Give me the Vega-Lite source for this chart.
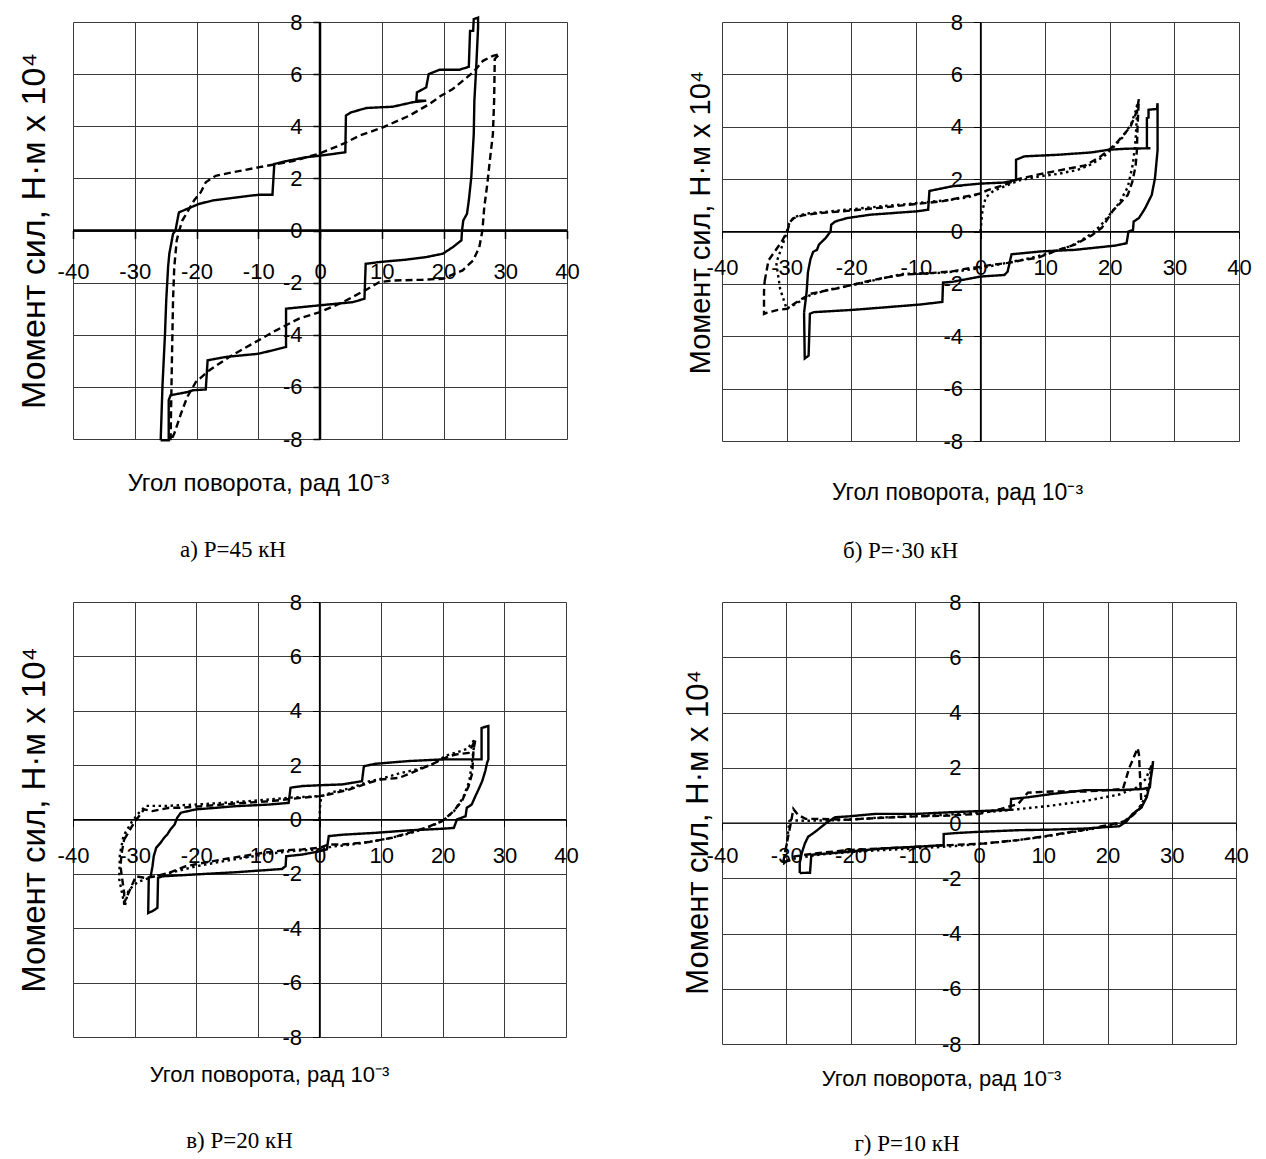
{
"$schema": "https://vega.github.io/schema/vega-lite/v6.json",
"background": "white",
"padding": {"left": 17, "top": 11, "right": 5, "bottom": 5},
"bounds": "flush",
"align": "each",
"columns": 2,
"spacing": {"row": 161, "column": 155},
"config": {
  "view": {"stroke": null},
  "axis": {"labelFont": "Liberation Sans", "titleFont": "Liberation Sans", "labelColor": "black", "titleColor": "black", "tickColor": "black", "domainColor": "black", "gridColor": "#3a3a3a", "gridWidth": 1, "titleFontWeight": "normal", "labelFlush": false, "labelOverlap": false, "labelExpr": "toString(datum.value)"}
},
"datasets": {
  "axes": [{"x1": -40, "x2": 40, "y1": 0, "y2": 0}, {"x1": 0, "x2": 0, "y1": -8, "y2": 8}],
  "a": [
{"s":"solid","x":-25.8,"y":-8.05},{"s":"solid","x":-25.5,"y":-5.9},{"s":"solid","x":-25.1,"y":-3.96},{"s":"solid","x":-24.9,"y":-2.68},{"s":"solid","x":-24.6,"y":-1.4},{"s":"solid","x":-24.4,"y":-0.89},{"s":"solid","x":-23.8,"y":-0.13},{"s":"solid","x":-23.4,"y":0},{"s":"solid","x":-22.9,"y":0.64},{"s":"solid","x":-22.8,"y":0.7},{"s":"solid","x":-20.9,"y":0.89},{"s":"solid","x":-19.6,"y":1.02},{"s":"solid","x":-17.4,"y":1.15},{"s":"solid","x":-14.2,"y":1.25},{"s":"solid","x":-10,"y":1.37},{"s":"solid","x":-7.7,"y":1.37},{"s":"solid","x":-7.4,"y":2.55},{"s":"solid","x":-5.5,"y":2.66},{"s":"solid","x":-2.3,"y":2.81},{"s":"solid","x":0,"y":2.87},{"s":"solid","x":4.1,"y":3.0},{"s":"solid","x":4.2,"y":4.41},{"s":"solid","x":5.0,"y":4.53},{"s":"solid","x":7.5,"y":4.7},{"s":"solid","x":11.8,"y":4.75},{"s":"solid","x":15.0,"y":4.92},{"s":"solid","x":17.2,"y":4.98},{"s":"solid","x":15.6,"y":4.98},{"s":"solid","x":15.7,"y":5.3},{"s":"solid","x":17.2,"y":5.49},{"s":"solid","x":17.6,"y":6.0},{"s":"solid","x":19.4,"y":6.17},{"s":"solid","x":22.6,"y":6.17},{"s":"solid","x":24.1,"y":6.28},{"s":"solid","x":24.3,"y":7.66},{"s":"solid","x":24.8,"y":7.66},{"s":"solid","x":24.9,"y":8.11},{"s":"solid","x":25.6,"y":8.17},{"s":"solid","x":25.6,"y":7.8},{"s":"solid","x":25.3,"y":6.26},{"s":"solid","x":25.0,"y":4.98},{"s":"solid","x":24.9,"y":3.7},{"s":"solid","x":24.5,"y":2.04},{"s":"solid","x":24.1,"y":1.15},{"s":"solid","x":23.8,"y":0.64},{"s":"solid","x":23.2,"y":0.38},{"s":"solid","x":23.0,"y":0},{"s":"solid","x":22.9,"y":-0.38},{"s":"solid","x":21.5,"y":-0.64},{"s":"solid","x":19.9,"y":-0.89},{"s":"solid","x":17.2,"y":-1.02},{"s":"solid","x":13.9,"y":-1.12},{"s":"solid","x":9.6,"y":-1.21},{"s":"solid","x":7.4,"y":-1.28},{"s":"solid","x":7.2,"y":-2.62},{"s":"solid","x":5.3,"y":-2.75},{"s":"solid","x":0,"y":-2.87},{"s":"solid","x":-5.5,"y":-3.0},{"s":"solid","x":-5.5,"y":-4.47},{"s":"solid","x":-7.7,"y":-4.6},{"s":"solid","x":-10,"y":-4.73},{"s":"solid","x":-15.2,"y":-4.85},{"s":"solid","x":-18.2,"y":-4.98},{"s":"solid","x":-18.5,"y":-6.1},{"s":"solid","x":-20.6,"y":-6.13},{"s":"solid","x":-21.5,"y":-6.2},{"s":"solid","x":-24.2,"y":-6.32},{"s":"solid","x":-24.5,"y":-6.51},{"s":"solid","x":-24.5,"y":-8.05},{"s":"solid","x":-25.8,"y":-8.05},
{"s":"dashed","x":-24.2,"y":-8.05},{"s":"dashed","x":-24.0,"y":-5.24},{"s":"dashed","x":-23.8,"y":-2.68},{"s":"dashed","x":-23.6,"y":-1.4},{"s":"dashed","x":-23.2,"y":-0.38},{"s":"dashed","x":-22.8,"y":0},{"s":"dashed","x":-22.3,"y":0.38},{"s":"dashed","x":-21.5,"y":0.7},{"s":"dashed","x":-20.4,"y":1.15},{"s":"dashed","x":-19.3,"y":1.47},{"s":"dashed","x":-18.5,"y":1.85},{"s":"dashed","x":-16.9,"y":2.1},{"s":"dashed","x":-14.2,"y":2.23},{"s":"dashed","x":-9.8,"y":2.43},{"s":"dashed","x":-4.4,"y":2.66},{"s":"dashed","x":0,"y":2.96},{"s":"dashed","x":3.7,"y":3.32},{"s":"dashed","x":6.4,"y":3.64},{"s":"dashed","x":10.2,"y":3.96},{"s":"dashed","x":14.5,"y":4.41},{"s":"dashed","x":17.7,"y":4.85},{"s":"dashed","x":19.6,"y":5.17},{"s":"dashed","x":21.5,"y":5.43},{"s":"dashed","x":24.8,"y":6.07},{"s":"dashed","x":26.4,"y":6.51},{"s":"dashed","x":28.0,"y":6.7},{"s":"dashed","x":29.1,"y":6.77},{"s":"dashed","x":28.3,"y":6.58},{"s":"dashed","x":28.2,"y":4.98},{"s":"dashed","x":28.0,"y":3.7},{"s":"dashed","x":27.5,"y":2.68},{"s":"dashed","x":27.1,"y":1.79},{"s":"dashed","x":26.6,"y":0.89},{"s":"dashed","x":26.3,"y":0},{"s":"dashed","x":25.8,"y":-0.64},{"s":"dashed","x":24.8,"y":-1.15},{"s":"dashed","x":23.1,"y":-1.53},{"s":"dashed","x":19.9,"y":-1.85},{"s":"dashed","x":16.6,"y":-1.89},{"s":"dashed","x":11.8,"y":-1.92},{"s":"dashed","x":9.6,"y":-1.98},{"s":"dashed","x":7.5,"y":-2.27},{"s":"dashed","x":3.7,"y":-2.75},{"s":"dashed","x":0,"y":-3.13},{"s":"dashed","x":-3.4,"y":-3.38},{"s":"dashed","x":-7.1,"y":-3.83},{"s":"dashed","x":-10.9,"y":-4.34},{"s":"dashed","x":-14.7,"y":-4.85},{"s":"dashed","x":-17.9,"y":-5.36},{"s":"dashed","x":-20.1,"y":-5.81},{"s":"dashed","x":-21.5,"y":-6.39},{"s":"dashed","x":-22.5,"y":-7.02},{"s":"dashed","x":-23.6,"y":-7.79},{"s":"dashed","x":-24.2,"y":-8.1}
  ],
  "b": [
{"s":"solid","x":-27.3,"y":-3.1},{"s":"solid","x":-26.9,"y":-2.3},{"s":"solid","x":-26.7,"y":-1.55},{"s":"solid","x":-26.3,"y":-1.05},{"s":"solid","x":-25.9,"y":-0.78},{"s":"solid","x":-25.3,"y":-0.7},{"s":"solid","x":-25.0,"y":-0.5},{"s":"solid","x":-24.5,"y":-0.38},{"s":"solid","x":-24.0,"y":-0.26},{"s":"solid","x":-23.6,"y":-0.13},{"s":"solid","x":-23.2,"y":0},{"s":"solid","x":-23.1,"y":0.26},{"s":"solid","x":-22.5,"y":0.38},{"s":"solid","x":-20.7,"y":0.51},{"s":"solid","x":-17.1,"y":0.64},{"s":"solid","x":-9.9,"y":0.77},{"s":"solid","x":-8.1,"y":0.83},{"s":"solid","x":-7.9,"y":1.55},{"s":"solid","x":-4.3,"y":1.73},{"s":"solid","x":0,"y":1.83},{"s":"solid","x":3.7,"y":1.87},{"s":"solid","x":5.5,"y":1.97},{"s":"solid","x":5.5,"y":2.74},{"s":"solid","x":6.8,"y":2.87},{"s":"solid","x":12.0,"y":2.93},{"s":"solid","x":17.2,"y":3.02},{"s":"solid","x":19.8,"y":3.12},{"s":"solid","x":22.4,"y":3.16},{"s":"solid","x":26.3,"y":3.18},{"s":"solid","x":25.75,"y":3.18},{"s":"solid","x":25.75,"y":4.33},{"s":"solid","x":26.0,"y":4.35},{"s":"solid","x":26.0,"y":4.65},{"s":"solid","x":27.3,"y":4.68},{"s":"solid","x":27.4,"y":4.9},{"s":"solid","x":27.4,"y":3.1},{"s":"solid","x":27.0,"y":2.04},{"s":"solid","x":26.5,"y":1.4},{"s":"solid","x":26.0,"y":1.15},{"s":"solid","x":25.5,"y":0.9},{"s":"solid","x":25.0,"y":0.7},{"s":"solid","x":24.5,"y":0.51},{"s":"solid","x":23.7,"y":0.38},{"s":"solid","x":23.6,"y":0.06},{"s":"solid","x":22.9,"y":0},{"s":"solid","x":22.6,"y":-0.45},{"s":"solid","x":20.8,"y":-0.54},{"s":"solid","x":14.6,"y":-0.7},{"s":"solid","x":9.4,"y":-0.76},{"s":"solid","x":4.8,"y":-0.87},{"s":"solid","x":4.2,"y":-1.53},{"s":"solid","x":3.7,"y":-1.66},{"s":"solid","x":0,"y":-1.72},{"s":"solid","x":-4.3,"y":-1.92},{"s":"solid","x":-5.8,"y":-1.95},{"s":"solid","x":-5.9,"y":-2.69},{"s":"solid","x":-9.4,"y":-2.79},{"s":"solid","x":-15.5,"y":-2.91},{"s":"solid","x":-19.6,"y":-2.99},{"s":"solid","x":-25.8,"y":-3.08},{"s":"solid","x":-26.4,"y":-3.14},{"s":"solid","x":-26.6,"y":-4.74},{"s":"solid","x":-27.2,"y":-4.85},{"s":"solid","x":-27.3,"y":-3.1},
{"s":"dashed","x":-33.4,"y":-1.9},{"s":"dashed","x":-32.8,"y":-1.1},{"s":"dashed","x":-31.8,"y":-0.75},{"s":"dashed","x":-30.8,"y":-0.4},{"s":"dashed","x":-29.9,"y":0},{"s":"dashed","x":-29.5,"y":0.35},{"s":"dashed","x":-29.0,"y":0.5},{"s":"dashed","x":-27.5,"y":0.62},{"s":"dashed","x":-25,"y":0.7},{"s":"dashed","x":-20,"y":0.8},{"s":"dashed","x":-15,"y":0.92},{"s":"dashed","x":-10,"y":1.05},{"s":"dashed","x":-6,"y":1.15},{"s":"dashed","x":-3,"y":1.3},{"s":"dashed","x":0,"y":1.45},{"s":"dashed","x":1.1,"y":1.58},{"s":"dashed","x":3.7,"y":1.78},{"s":"dashed","x":5.8,"y":2.0},{"s":"dashed","x":9.4,"y":2.2},{"s":"dashed","x":13.6,"y":2.4},{"s":"dashed","x":16.2,"y":2.52},{"s":"dashed","x":18.5,"y":2.85},{"s":"dashed","x":19.8,"y":3.1},{"s":"dashed","x":21.3,"y":3.45},{"s":"dashed","x":23.2,"y":4.0},{"s":"dashed","x":24.2,"y":4.6},{"s":"dashed","x":24.5,"y":5.05},{"s":"dashed","x":24.3,"y":4.0},{"s":"dashed","x":24.2,"y":3.1},{"s":"dashed","x":24.0,"y":2.5},{"s":"dashed","x":23.5,"y":1.9},{"s":"dashed","x":22.8,"y":1.4},{"s":"dashed","x":21.5,"y":1.05},{"s":"dashed","x":20.5,"y":0.8},{"s":"dashed","x":19.6,"y":0.45},{"s":"dashed","x":18.8,"y":0.15},{"s":"dashed","x":17.2,"y":-0.15},{"s":"dashed","x":14.6,"y":-0.5},{"s":"dashed","x":11.5,"y":-0.75},{"s":"dashed","x":8.9,"y":-1.0},{"s":"dashed","x":6.8,"y":-1.08},{"s":"dashed","x":4.2,"y":-1.2},{"s":"dashed","x":1.7,"y":-1.27},{"s":"dashed","x":0,"y":-1.35},{"s":"dashed","x":-2.2,"y":-1.42},{"s":"dashed","x":-4.3,"y":-1.52},{"s":"dashed","x":-7.3,"y":-1.58},{"s":"dashed","x":-10,"y":-1.62},{"s":"dashed","x":-12,"y":-1.65},{"s":"dashed","x":-14.5,"y":-1.75},{"s":"dashed","x":-18.1,"y":-1.93},{"s":"dashed","x":-21.7,"y":-2.15},{"s":"dashed","x":-24.8,"y":-2.3},{"s":"dashed","x":-26.3,"y":-2.38},{"s":"dashed","x":-27.3,"y":-2.52},{"s":"dashed","x":-28.6,"y":-2.72},{"s":"dashed","x":-29.9,"y":-2.95},{"s":"dashed","x":-31.5,"y":-3.0},{"s":"dashed","x":-33,"y":-3.1},{"s":"dashed","x":-33.5,"y":-3.15},{"s":"dashed","x":-33.5,"y":-2.3},{"s":"dashed","x":-33.4,"y":-1.9},
{"s":"dotted","x":0,"y":0},{"s":"dotted","x":0.3,"y":0.8},{"s":"dotted","x":0.8,"y":1.3},{"s":"dotted","x":2,"y":1.55},{"s":"dotted","x":4,"y":1.75},{"s":"dotted","x":6,"y":1.95},{"s":"dotted","x":9,"y":2.1},{"s":"dotted","x":12,"y":2.2},{"s":"dotted","x":15,"y":2.35},{"s":"dotted","x":17,"y":2.55},{"s":"dotted","x":19,"y":2.85},{"s":"dotted","x":20.5,"y":3.2},{"s":"dotted","x":22,"y":3.6},{"s":"dotted","x":23.3,"y":4.1},{"s":"dotted","x":24.0,"y":4.6},{"s":"dotted","x":24.3,"y":4.9},{"s":"dotted","x":24.0,"y":3.5},{"s":"dotted","x":23.6,"y":2.6},{"s":"dotted","x":22.8,"y":1.7},{"s":"dotted","x":21.5,"y":1.1},{"s":"dotted","x":20,"y":0.65},{"s":"dotted","x":18.5,"y":0.2},{"s":"dotted","x":16.5,"y":-0.2},{"s":"dotted","x":14,"y":-0.55},{"s":"dotted","x":11,"y":-0.8},{"s":"dotted","x":8,"y":-1.0},{"s":"dotted","x":5,"y":-1.15},{"s":"dotted","x":2,"y":-1.3},{"s":"dotted","x":0,"y":-1.4},{"s":"dotted","x":-3,"y":-1.5},{"s":"dotted","x":-6,"y":-1.58},{"s":"dotted","x":-9,"y":-1.6},{"s":"dotted","x":-12,"y":-1.62},{"s":"dotted","x":-15,"y":-1.78},{"s":"dotted","x":-18,"y":-1.95},{"s":"dotted","x":-21,"y":-2.1},{"s":"dotted","x":-24,"y":-2.25},{"s":"dotted","x":-26.5,"y":-2.45},{"s":"dotted","x":-28.5,"y":-2.75},{"s":"dotted","x":-30,"y":-2.95},{"s":"dotted","x":-31,"y":-2.2},{"s":"dotted","x":-31.6,"y":-1.2},{"s":"dotted","x":-30.9,"y":-0.7},{"s":"dotted","x":-30.2,"y":-0.2},{"s":"dotted","x":-29.6,"y":0.3},{"s":"dotted","x":-28.8,"y":0.55},{"s":"dotted","x":-27,"y":0.68},{"s":"dotted","x":-24,"y":0.75},{"s":"dotted","x":-20,"y":0.85},{"s":"dotted","x":-15,"y":0.97},{"s":"dotted","x":-10,"y":1.08},{"s":"dotted","x":-5,"y":1.2},{"s":"dotted","x":-2,"y":1.3},{"s":"dotted","x":0,"y":1.45}
  ],
  "c": [
{"s":"solid","x":-27.4,"y":-2.09},{"s":"solid","x":-27.1,"y":-1.72},{"s":"solid","x":-26.9,"y":-1.35},{"s":"solid","x":-26.5,"y":-1.04},{"s":"solid","x":-25.8,"y":-0.86},{"s":"solid","x":-25.2,"y":-0.67},{"s":"solid","x":-24.7,"y":-0.55},{"s":"solid","x":-24.2,"y":-0.37},{"s":"solid","x":-23.5,"y":-0.18},{"s":"solid","x":-23.1,"y":0.06},{"s":"solid","x":-22.5,"y":0.25},{"s":"solid","x":-20.1,"y":0.37},{"s":"solid","x":-13.6,"y":0.49},{"s":"solid","x":-8.2,"y":0.55},{"s":"solid","x":-5.0,"y":0.61},{"s":"solid","x":-4.7,"y":1.17},{"s":"solid","x":-2.8,"y":1.23},{"s":"solid","x":0,"y":1.26},{"s":"solid","x":3.7,"y":1.29},{"s":"solid","x":6.9,"y":1.41},{"s":"solid","x":7.2,"y":1.96},{"s":"solid","x":9.1,"y":2.05},{"s":"solid","x":14.5,"y":2.15},{"s":"solid","x":19.9,"y":2.21},{"s":"solid","x":26.3,"y":2.21},{"s":"solid","x":26.3,"y":3.37},{"s":"solid","x":27.4,"y":3.44},{"s":"solid","x":27.4,"y":2.2},{"s":"solid","x":27.2,"y":2.09},{"s":"solid","x":26.9,"y":1.78},{"s":"solid","x":26.4,"y":1.41},{"s":"solid","x":25.8,"y":1.1},{"s":"solid","x":25.3,"y":0.86},{"s":"solid","x":24.7,"y":0.55},{"s":"solid","x":23.9,"y":0.43},{"s":"solid","x":23.7,"y":0.12},{"s":"solid","x":22.3,"y":0},{"s":"solid","x":21.8,"y":-0.31},{"s":"solid","x":19.9,"y":-0.34},{"s":"solid","x":14.5,"y":-0.4},{"s":"solid","x":9.1,"y":-0.49},{"s":"solid","x":3.7,"y":-0.56},{"s":"solid","x":1.5,"y":-0.61},{"s":"solid","x":1.2,"y":-1.1},{"s":"solid","x":0,"y":-1.17},{"s":"solid","x":-2.8,"y":-1.29},{"s":"solid","x":-5.4,"y":-1.35},{"s":"solid","x":-5.5,"y":-1.72},{"s":"solid","x":-6.1,"y":-1.82},{"s":"solid","x":-13.6,"y":-1.94},{"s":"solid","x":-20.1,"y":-2.02},{"s":"solid","x":-25.5,"y":-2.09},{"s":"solid","x":-26.2,"y":-2.15},{"s":"solid","x":-26.3,"y":-3.25},{"s":"solid","x":-27.1,"y":-3.37},{"s":"solid","x":-27.8,"y":-3.44},{"s":"solid","x":-27.7,"y":-2.09},
{"s":"dashed","x":-31.7,"y":-0.74},{"s":"dashed","x":-30.9,"y":-0.43},{"s":"dashed","x":-30.1,"y":-0.12},{"s":"dashed","x":-29.3,"y":0.12},{"s":"dashed","x":-28.5,"y":0.37},{"s":"dashed","x":-27.1,"y":0.31},{"s":"dashed","x":-24.4,"y":0.43},{"s":"dashed","x":-22.8,"y":0.43},{"s":"dashed","x":-19.0,"y":0.49},{"s":"dashed","x":-13.6,"y":0.59},{"s":"dashed","x":-8.2,"y":0.67},{"s":"dashed","x":-2.8,"y":0.8},{"s":"dashed","x":0,"y":0.86},{"s":"dashed","x":1.5,"y":0.92},{"s":"dashed","x":4.8,"y":1.1},{"s":"dashed","x":8.0,"y":1.35},{"s":"dashed","x":9.9,"y":1.47},{"s":"dashed","x":12.9,"y":1.53},{"s":"dashed","x":15.6,"y":1.78},{"s":"dashed","x":18.8,"y":2.09},{"s":"dashed","x":21.0,"y":2.33},{"s":"dashed","x":22.1,"y":2.39},{"s":"dashed","x":24.2,"y":2.45},{"s":"dashed","x":25.3,"y":2.94},{"s":"dashed","x":25.0,"y":2.58},{"s":"dashed","x":24.9,"y":2.21},{"s":"dashed","x":24.8,"y":1.72},{"s":"dashed","x":24.2,"y":1.23},{"s":"dashed","x":23.1,"y":0.67},{"s":"dashed","x":21.5,"y":0.25},{"s":"dashed","x":19.9,"y":-0.06},{"s":"dashed","x":17.2,"y":-0.31},{"s":"dashed","x":14.5,"y":-0.49},{"s":"dashed","x":11.8,"y":-0.67},{"s":"dashed","x":8.0,"y":-0.83},{"s":"dashed","x":3.7,"y":-0.92},{"s":"dashed","x":1.5,"y":-0.92},{"s":"dashed","x":0,"y":-1.04},{"s":"dashed","x":-2.8,"y":-1.1},{"s":"dashed","x":-6.1,"y":-1.14},{"s":"dashed","x":-9.3,"y":-1.23},{"s":"dashed","x":-12.5,"y":-1.35},{"s":"dashed","x":-15.8,"y":-1.47},{"s":"dashed","x":-19.0,"y":-1.6},{"s":"dashed","x":-21.7,"y":-1.72},{"s":"dashed","x":-24.4,"y":-1.96},{"s":"dashed","x":-26.6,"y":-2.09},{"s":"dashed","x":-28.2,"y":-2.15},{"s":"dashed","x":-29.8,"y":-2.09},{"s":"dashed","x":-31.7,"y":-3.07},{"s":"dashed","x":-31.7,"y":-2.7},{"s":"dashed","x":-32.0,"y":-2.21},{"s":"dashed","x":-32.3,"y":-1.72},{"s":"dashed","x":-32.1,"y":-1.23},{"s":"dashed","x":-31.7,"y":-0.74},
{"s":"dotted","x":0,"y":0},{"s":"dotted","x":0.1,"y":0.5},{"s":"dotted","x":0.3,"y":0.85},{"s":"dotted","x":2,"y":1.0},{"s":"dotted","x":5,"y":1.15},{"s":"dotted","x":8,"y":1.4},{"s":"dotted","x":10,"y":1.5},{"s":"dotted","x":13,"y":1.7},{"s":"dotted","x":16,"y":1.85},{"s":"dotted","x":18.5,"y":2.05},{"s":"dotted","x":20.5,"y":2.35},{"s":"dotted","x":22,"y":2.45},{"s":"dotted","x":24,"y":2.6},{"s":"dotted","x":25.2,"y":2.95},{"s":"dotted","x":24.8,"y":2.2},{"s":"dotted","x":24.3,"y":1.4},{"s":"dotted","x":23.3,"y":0.8},{"s":"dotted","x":21.8,"y":0.3},{"s":"dotted","x":20,"y":-0.05},{"s":"dotted","x":17,"y":-0.35},{"s":"dotted","x":14,"y":-0.55},{"s":"dotted","x":10,"y":-0.75},{"s":"dotted","x":6,"y":-0.9},{"s":"dotted","x":2,"y":-1.0},{"s":"dotted","x":0,"y":-1.1},{"s":"dotted","x":-4,"y":-1.15},{"s":"dotted","x":-8,"y":-1.25},{"s":"dotted","x":-12,"y":-1.4},{"s":"dotted","x":-16,"y":-1.55},{"s":"dotted","x":-20,"y":-1.72},{"s":"dotted","x":-24,"y":-1.95},{"s":"dotted","x":-27,"y":-2.1},{"s":"dotted","x":-29.5,"y":-2.3},{"s":"dotted","x":-31,"y":-2.6},{"s":"dotted","x":-31.6,"y":-3.2},{"s":"dotted","x":-32.5,"y":-2.2},{"s":"dotted","x":-32.4,"y":-1.3},{"s":"dotted","x":-31.8,"y":-0.6},{"s":"dotted","x":-30.5,"y":-0.1},{"s":"dotted","x":-29.5,"y":0.2},{"s":"dotted","x":-28.2,"y":0.5},{"s":"dotted","x":-25,"y":0.5},{"s":"dotted","x":-20,"y":0.55},{"s":"dotted","x":-15,"y":0.62},{"s":"dotted","x":-10,"y":0.7},{"s":"dotted","x":-5,"y":0.8},{"s":"dotted","x":0,"y":0.86}
  ],
  "d": [
{"s":"solid","x":-27.9,"y":-1.81},{"s":"solid","x":-27.9,"y":-1.45},{"s":"solid","x":-27.6,"y":-1.1},{"s":"solid","x":-27.1,"y":-0.74},{"s":"solid","x":-26.6,"y":-0.5},{"s":"solid","x":-25.5,"y":-0.32},{"s":"solid","x":-23.9,"y":-0.02},{"s":"solid","x":-22.4,"y":0.21},{"s":"solid","x":-20.3,"y":0.24},{"s":"solid","x":-16.1,"y":0.33},{"s":"solid","x":-9.7,"y":0.33},{"s":"solid","x":-4.5,"y":0.39},{"s":"solid","x":0,"y":0.43},{"s":"solid","x":4.9,"y":0.48},{"s":"solid","x":5.0,"y":0.87},{"s":"solid","x":7.6,"y":0.93},{"s":"solid","x":11.3,"y":1.05},{"s":"solid","x":16.6,"y":1.19},{"s":"solid","x":21.8,"y":1.19},{"s":"solid","x":25.5,"y":1.23},{"s":"solid","x":26.6,"y":1.29},{"s":"solid","x":26.8,"y":1.76},{"s":"solid","x":27.1,"y":2.24},{"s":"solid","x":27.0,"y":2.0},{"s":"solid","x":26.6,"y":1.4},{"s":"solid","x":26.1,"y":0.93},{"s":"solid","x":25.3,"y":0.57},{"s":"solid","x":23.9,"y":0.33},{"s":"solid","x":22.9,"y":0.04},{"s":"solid","x":21.8,"y":-0.12},{"s":"solid","x":20.3,"y":-0.14},{"s":"solid","x":16.6,"y":-0.2},{"s":"solid","x":11.3,"y":-0.24},{"s":"solid","x":6.1,"y":-0.26},{"s":"solid","x":0,"y":-0.32},{"s":"solid","x":-3.4,"y":-0.36},{"s":"solid","x":-5.5,"y":-0.4},{"s":"solid","x":-5.5,"y":-0.8},{"s":"solid","x":-9.7,"y":-0.86},{"s":"solid","x":-15.0,"y":-0.92},{"s":"solid","x":-20.3,"y":-1.04},{"s":"solid","x":-26.1,"y":-1.15},{"s":"solid","x":-26.3,"y":-1.8},{"s":"solid","x":-27.9,"y":-1.81},
{"s":"dashed","x":-30.5,"y":-1.45},{"s":"dashed","x":-29.8,"y":-0.6},{"s":"dashed","x":-29.2,"y":0.1},{"s":"dashed","x":-28.9,"y":0.51},{"s":"dashed","x":-28.2,"y":0.3},{"s":"dashed","x":-27,"y":0.15},{"s":"dashed","x":-25.5,"y":0.15},{"s":"dashed","x":-20.3,"y":0.12},{"s":"dashed","x":-15.0,"y":0.19},{"s":"dashed","x":-9.7,"y":0.24},{"s":"dashed","x":-4.5,"y":0.27},{"s":"dashed","x":0,"y":0.33},{"s":"dashed","x":3.4,"y":0.51},{"s":"dashed","x":6.1,"y":0.69},{"s":"dashed","x":7.6,"y":1.1},{"s":"dashed","x":11.3,"y":1.14},{"s":"dashed","x":16.6,"y":1.14},{"s":"dashed","x":22.4,"y":1.23},{"s":"dashed","x":23.4,"y":2.0},{"s":"dashed","x":24.7,"y":2.71},{"s":"dashed","x":24.9,"y":2.48},{"s":"dashed","x":25.1,"y":1.52},{"s":"dashed","x":25.3,"y":0.57},{"s":"dashed","x":23.9,"y":0.27},{"s":"dashed","x":22.4,"y":0.04},{"s":"dashed","x":16.6,"y":-0.24},{"s":"dashed","x":11.3,"y":-0.44},{"s":"dashed","x":6.1,"y":-0.62},{"s":"dashed","x":0.8,"y":-0.74},{"s":"dashed","x":-4.5,"y":-0.8},{"s":"dashed","x":-9.7,"y":-0.86},{"s":"dashed","x":-15.0,"y":-0.92},{"s":"dashed","x":-20.3,"y":-0.98},{"s":"dashed","x":-25.5,"y":-1.1},{"s":"dashed","x":-28.7,"y":-1.21},{"s":"dashed","x":-30.5,"y":-1.45},
{"s":"dotted","x":-29.5,"y":0.1},{"s":"dotted","x":-27,"y":0.08},{"s":"dotted","x":-22,"y":0.1},{"s":"dotted","x":-15,"y":0.2},{"s":"dotted","x":-10,"y":0.25},{"s":"dotted","x":-5,"y":0.3},{"s":"dotted","x":0,"y":0.38},{"s":"dotted","x":3,"y":0.43},{"s":"dotted","x":6.1,"y":0.5},{"s":"dotted","x":11.3,"y":0.63},{"s":"dotted","x":16.6,"y":0.8},{"s":"dotted","x":21.8,"y":1.03},{"s":"dotted","x":24.5,"y":1.28},{"s":"dotted","x":26,"y":1.6},{"s":"dotted","x":26.8,"y":2.1},{"s":"dotted","x":26.5,"y":1.4},{"s":"dotted","x":25.8,"y":0.9},{"s":"dotted","x":24.8,"y":0.5},{"s":"dotted","x":23.5,"y":0.2},{"s":"dotted","x":22,"y":0.0},{"s":"dotted","x":18,"y":-0.2},{"s":"dotted","x":14,"y":-0.35},{"s":"dotted","x":10,"y":-0.5},{"s":"dotted","x":6,"y":-0.62},{"s":"dotted","x":2,"y":-0.72},{"s":"dotted","x":-2,"y":-0.8},{"s":"dotted","x":-6,"y":-0.87},{"s":"dotted","x":-10,"y":-0.92},{"s":"dotted","x":-15,"y":-0.98},{"s":"dotted","x":-20,"y":-1.05},{"s":"dotted","x":-25,"y":-1.15},{"s":"dotted","x":-29,"y":-1.3},{"s":"dotted","x":-30.3,"y":-1.45},{"s":"dotted","x":-30,"y":-0.9},{"s":"dotted","x":-29.7,"y":-0.3},{"s":"dotted","x":-29.5,"y":0.1}
  ]
},
"concat": [
  {"width": 494, "height": 417,
   "title": {"text": "а) Р=45 кН", "orient": "bottom", "anchor": "middle", "frame": "group", "font": "Liberation Serif", "fontSize": 23, "fontWeight": "normal", "color": "black", "offset": 44, "dx": -87},
   "layer": [
    {"data": {"name": "axes"}, "mark": {"type": "rule", "color": "black", "strokeWidth": 2.5},
     "encoding": {
      "x": {"field": "x1", "type": "quantitative", "scale": {"domain": [-40, 40], "nice": false, "zero": false}, "axis": {"grid": true, "values": [-40,-30,-20,-10,0,10,20,30,40], "labels": false, "ticks": false, "domain": false, "title": "Угол поворота, рад 10⁻³", "titleFontSize": 24, "titlePadding": 32, "titleX": 185}},
      "x2": {"field": "x2"},
      "y": {"field": "y1", "type": "quantitative", "scale": {"domain": [-8, 8], "nice": false, "zero": false}, "axis": {"grid": true, "values": [-8,-6,-4,-2,0,2,4,6,8], "labels": false, "ticks": false, "domain": false, "title": "Момент сил, Н·м х 10⁴", "titleFontSize": 34, "titlePadding": 22}},
      "y2": {"field": "y2"}}},
    {"data": {"name": "a"}, "mark": {"type": "line", "color": "black", "strokeWidth": 2.4},
     "encoding": {
      "x": {"field": "x", "type": "quantitative", "scale": {"domain": [-40, 40], "nice": false, "zero": false}, "axis": {"orient": "bottom", "offset": -208.5, "grid": false, "domain": false, "tickSize": 8, "tickWidth": 1.5, "labelFontSize": 22, "labelPadding": 23, "values": [-40,-30,-20,-10,0,10,20,30,40], "title": null}},
      "y": {"field": "y", "type": "quantitative", "scale": {"domain": [-8, 8], "nice": false, "zero": false}, "axis": {"orient": "left", "offset": -247, "grid": false, "domain": false, "tickSize": 7, "tickWidth": 1.5, "labelFontSize": 22, "labelPadding": 11, "values": [-8,-6,-4,-2,0,2,4,6,8], "title": null}},
      "strokeDash": {"field": "s", "type": "nominal", "scale": {"domain": ["solid","dashed","dotted"], "range": [[1,0],[7,4],[2.5,3.5]]}, "legend": null},
      "order": {"value": null}}}
   ],
   "resolve": {"axis": {"x": "independent", "y": "independent"}}},
  {"width": 517, "height": 419,
   "title": {"text": "б) Р=·30 кН", "orient": "bottom", "anchor": "middle", "frame": "group", "font": "Liberation Serif", "fontSize": 23, "fontWeight": "normal", "color": "black", "offset": 36, "dx": -80},
   "layer": [
    {"data": {"name": "axes"}, "mark": {"type": "rule", "color": "black", "strokeWidth": 1.2},
     "encoding": {
      "x": {"field": "x1", "type": "quantitative", "scale": {"domain": [-40, 40], "nice": false, "zero": false}, "axis": {"grid": true, "values": [-40,-30,-20,-10,0,10,20,30,40], "labels": false, "ticks": false, "domain": false, "title": "Угол поворота, рад 10⁻³", "titleFontSize": 23, "titlePadding": 40, "titleX": 235}},
      "x2": {"field": "x2"},
      "y": {"field": "y1", "type": "quantitative", "scale": {"domain": [-8, 8], "nice": false, "zero": false}, "axis": {"grid": true, "values": [-8,-6,-4,-2,0,2,4,6,8], "labels": false, "ticks": false, "domain": false, "title": "Момент сил, Н·м х 10⁴", "titleFontSize": 29, "titlePadding": 7, "titleY": 200}},
      "y2": {"field": "y2"}}},
    {"data": {"name": "b"}, "mark": {"type": "line", "color": "black", "strokeWidth": 2.4},
     "encoding": {
      "x": {"field": "x", "type": "quantitative", "scale": {"domain": [-40, 40], "nice": false, "zero": false}, "axis": {"orient": "bottom", "offset": -209.5, "grid": false, "domain": false, "tickSize": 7, "labelFontSize": 22, "labelPadding": 19, "values": [-40,-30,-20,-10,0,10,20,30,40], "title": null}},
      "y": {"field": "y", "type": "quantitative", "scale": {"domain": [-8, 8], "nice": false, "zero": false}, "axis": {"orient": "left", "offset": -258.5, "grid": false, "domain": false, "tickSize": 7, "labelFontSize": 22, "labelPadding": 11, "values": [-8,-6,-4,-2,0,2,4,6,8], "title": null}},
      "strokeDash": {"field": "s", "type": "nominal", "scale": {"domain": ["solid","dashed","dotted"], "range": [[1,0],[7,4],[2.5,3.5]]}, "legend": null},
      "order": {"value": null}}}
   ],
   "resolve": {"axis": {"x": "independent", "y": "independent"}}},
  {"width": 493, "height": 435,
   "title": {"text": "в) Р=20 кН", "orient": "bottom", "anchor": "middle", "frame": "group", "font": "Liberation Serif", "fontSize": 23, "fontWeight": "normal", "color": "black", "offset": 45, "dx": -80},
   "layer": [
    {"data": {"name": "axes"}, "mark": {"type": "rule", "color": "black", "strokeWidth": 1.2},
     "encoding": {
      "x": {"field": "x1", "type": "quantitative", "scale": {"domain": [-40, 40], "nice": false, "zero": false}, "axis": {"grid": true, "values": [-40,-30,-20,-10,0,10,20,30,40], "labels": false, "ticks": false, "domain": false, "title": "Угол поворота, рад 10⁻³", "titleFontSize": 22, "titlePadding": 27, "titleX": 196}},
      "x2": {"field": "x2"},
      "y": {"field": "y1", "type": "quantitative", "scale": {"domain": [-8, 8], "nice": false, "zero": false}, "axis": {"grid": true, "values": [-8,-6,-4,-2,0,2,4,6,8], "labels": false, "ticks": false, "domain": false, "title": "Момент сил, Н·м х 10⁴", "titleFontSize": 33, "titlePadding": 22}},
      "y2": {"field": "y2"}}},
    {"data": {"name": "c"}, "mark": {"type": "line", "color": "black", "strokeWidth": 2.4},
     "encoding": {
      "x": {"field": "x", "type": "quantitative", "scale": {"domain": [-40, 40], "nice": false, "zero": false}, "axis": {"orient": "bottom", "offset": -217.5, "grid": false, "domain": false, "tickSize": 7, "labelFontSize": 22, "labelPadding": 19, "values": [-40,-30,-20,-10,0,10,20,30,40], "title": null}},
      "y": {"field": "y", "type": "quantitative", "scale": {"domain": [-8, 8], "nice": false, "zero": false}, "axis": {"orient": "left", "offset": -246.5, "grid": false, "domain": false, "tickSize": 7, "labelFontSize": 22, "labelPadding": 11, "values": [-8,-6,-4,-2,0,2,4,6,8], "title": null}},
      "strokeDash": {"field": "s", "type": "nominal", "scale": {"domain": ["solid","dashed","dotted"], "range": [[1,0],[7,4],[2.5,3.5]]}, "legend": null},
      "order": {"value": null}}}
   ],
   "resolve": {"axis": {"x": "independent", "y": "independent"}}},
  {"width": 514, "height": 442,
   "title": {"text": "г) Р=10 кН", "orient": "bottom", "anchor": "middle", "frame": "group", "font": "Liberation Serif", "fontSize": 23, "fontWeight": "normal", "color": "black", "offset": 44, "dx": -72},
   "layer": [
    {"data": {"name": "axes"}, "mark": {"type": "rule", "color": "black", "strokeWidth": 1.2},
     "encoding": {
      "x": {"field": "x1", "type": "quantitative", "scale": {"domain": [-40, 40], "nice": false, "zero": false}, "axis": {"grid": true, "values": [-40,-30,-20,-10,0,10,20,30,40], "labels": false, "ticks": false, "domain": false, "title": "Угол поворота, рад 10⁻³", "titleFontSize": 22, "titlePadding": 24, "titleX": 219}},
      "x2": {"field": "x2"},
      "y": {"field": "y1", "type": "quantitative", "scale": {"domain": [-8, 8], "nice": false, "zero": false}, "axis": {"grid": true, "values": [-8,-6,-4,-2,0,2,4,6,8], "labels": false, "ticks": false, "domain": false, "title": "Момент сил, Н·м х 10⁴", "titleFontSize": 31, "titlePadding": 8, "titleY": 230}},
      "y2": {"field": "y2"}}},
    {"data": {"name": "d"}, "mark": {"type": "line", "color": "black", "strokeWidth": 2.4},
     "encoding": {
      "x": {"field": "x", "type": "quantitative", "scale": {"domain": [-40, 40], "nice": false, "zero": false}, "axis": {"orient": "bottom", "offset": -221, "grid": false, "domain": false, "tickSize": 7, "labelFontSize": 22, "labelPadding": 15, "values": [-40,-30,-20,-10,0,10,20,30,40], "title": null}},
      "y": {"field": "y", "type": "quantitative", "scale": {"domain": [-8, 8], "nice": false, "zero": false}, "axis": {"orient": "left", "offset": -257, "grid": false, "domain": false, "tickSize": 7, "labelFontSize": 22, "labelPadding": 11, "values": [-8,-6,-4,-2,0,2,4,6,8], "title": null}},
      "strokeDash": {"field": "s", "type": "nominal", "scale": {"domain": ["solid","dashed","dotted"], "range": [[1,0],[7,4],[2.5,3.5]]}, "legend": null},
      "order": {"value": null}}}
   ],
   "resolve": {"axis": {"x": "independent", "y": "independent"}}}
]
}
